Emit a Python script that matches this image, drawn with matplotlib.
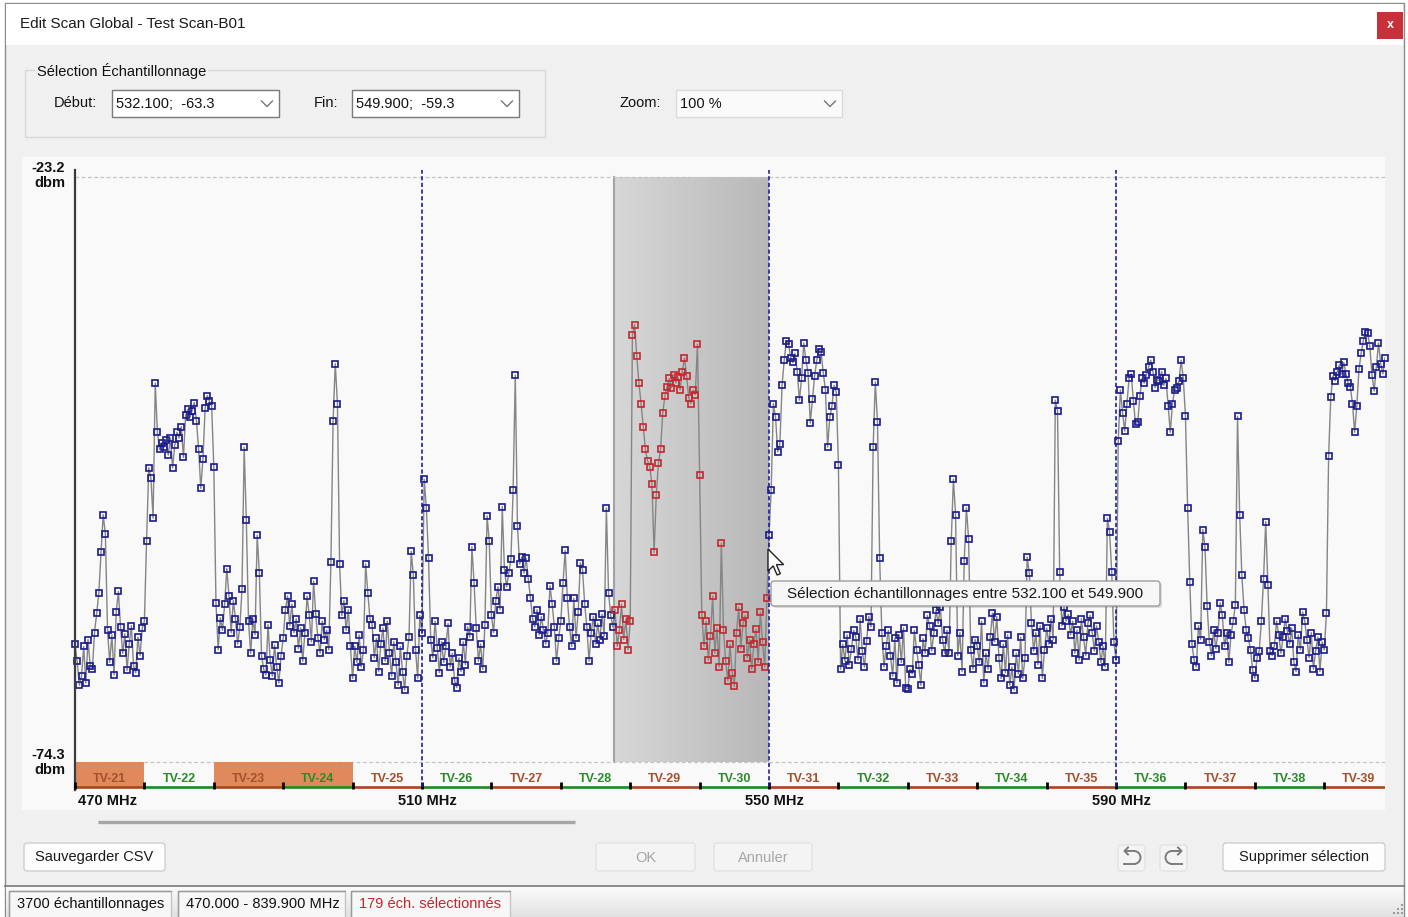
import numpy as np
import matplotlib
matplotlib.use("Agg")
import matplotlib.pyplot as plt
from matplotlib.patches import Rectangle, FancyBboxPatch, Polygon, Arc
from matplotlib.colors import LinearSegmentedColormap

# Scan levels (dBm), one sample every 0.25 MHz, one list per TV channel
step_mhz = 0.25
tv21 = [-64.0, -65.5, -67.6, -66.8, -64.2, -67.4, -63.6, -65.9, -66.2, -63.0, -61.3, -59.5, -56.0, -52.7, -54.4, -62.8,
        -65.6, -63.2, -66.7, -61.2, -59.4, -62.5, -64.8, -63.1, -66.3, -64.0, -62.4, -65.9, -66.5, -63.4, -65.0, -62.6]
tv22 = [-62.0, -55.0, -48.6, -49.5, -53.0, -41.2, -45.5, -47.0, -46.4, -46.8, -46.2, -47.5, -46.0, -48.6, -46.6, -45.5,
        -46.0, -45.0, -47.7, -44.0, -43.5, -44.2, -43.6, -42.9, -44.5, -47.0, -50.4, -47.8, -43.4, -42.3, -42.8, -43.2]
tv23 = [-48.5, -60.4, -64.5, -61.7, -62.8, -60.5, -57.4, -59.8, -63.0, -60.2, -61.8, -64.0, -62.5, -59.2, -46.8, -53.2,
        -62.0, -64.8, -61.8, -63.2, -54.5, -57.8, -65.0, -66.2, -66.7, -62.3, -65.4, -66.8, -64.1, -66.0, -67.4, -65.0]
tv24 = [-63.5, -61.0, -59.8, -62.4, -60.5, -63.0, -61.8, -64.4, -62.6, -65.5, -63.0, -59.8, -61.5, -63.8, -58.5, -61.4,
        -63.5, -64.8, -62.0, -63.6, -62.8, -64.5, -56.8, -44.5, -39.5, -43.0, -57.0, -61.5, -60.2, -62.8, -61.0, -64.2]
tv25 = [-67.0, -64.2, -65.6, -63.2, -66.0, -64.5, -57.0, -59.5, -61.8, -62.3, -65.2, -63.5, -66.4, -64.0, -62.6, -65.5,
        -62.0, -64.8, -66.8, -63.8, -65.6, -67.6, -64.2, -66.4, -68.0, -65.0, -63.4, -55.9, -58.0, -64.5, -67.0, -61.5]
tv26 = [-63.0, -49.6, -52.1, -56.5, -63.6, -65.2, -62.0, -64.3, -66.5, -63.8, -65.6, -64.2, -62.2, -66.0, -64.8, -67.2,
        -67.8, -65.2, -66.4, -63.8, -65.8, -62.5, -63.4, -55.5, -58.7, -62.6, -65.5, -64.0, -66.2, -62.3, -52.8, -55.0]
tv27 = [-61.5, -63.0, -60.2, -59.0, -61.0, -52.0, -57.5, -59.0, -57.8, -56.6, -50.5, -40.5, -53.7, -57.0, -56.4, -57.8,
        -56.5, -58.3, -60.0, -61.8, -62.5, -61.0, -63.2, -61.6, -62.8, -64.0, -63.0, -58.9, -60.5, -62.5, -65.5, -63.5]
tv28 = [-62.0, -58.7, -55.8, -60.0, -62.5, -64.2, -60.0, -63.5, -61.2, -56.9, -57.5, -60.5, -62.5, -65.5, -63.0, -61.6,
        -64.0, -62.2, -63.6, -61.4, -63.3, -52.1, -59.5, -61.5, -62.5, -61.0, -64.2, -62.8, -60.5, -63.6, -61.8, -64.5]
tv29 = [-62.0, -37.0, -36.1, -38.8, -41.2, -43.0, -45.0, -47.0, -48.0, -48.5, -50.0, -56.0, -51.0, -48.2, -47.0, -43.8,
        -42.3, -41.5, -40.8, -41.6, -40.5, -41.2, -40.7, -41.8, -40.2, -39.0, -40.6, -42.5, -43.0, -41.8, -42.2, -37.8]
tv30 = [-49.2, -61.5, -64.2, -62.0, -65.4, -63.3, -59.8, -64.8, -62.6, -66.0, -55.2, -62.8, -65.5, -67.2, -64.0, -66.5,
        -67.7, -63.0, -60.8, -64.4, -62.2, -61.5, -65.2, -63.6, -66.2, -64.0, -62.7, -65.6, -61.2, -63.8, -66.0, -60.0]
tv31 = [-54.5, -50.5, -43.0, -44.2, -47.2, -46.5, -41.4, -39.2, -37.5, -37.8, -39.0, -39.4, -38.6, -40.2, -42.7, -40.8,
        -37.7, -39.2, -40.3, -44.7, -42.6, -40.6, -39.2, -38.2, -38.5, -40.3, -41.8, -46.8, -44.2, -43.2, -41.4, -42.0]
tv32 = [-48.4, -66.2, -64.0, -65.5, -63.2, -65.8, -64.4, -62.8, -63.4, -65.4, -61.8, -64.6, -66.0, -63.7, -61.6, -62.5,
        -46.8, -41.1, -44.6, -56.5, -63.0, -66.0, -64.2, -62.8, -65.0, -66.8, -63.5, -67.4, -63.2, -65.6, -62.6, -67.8]
tv33 = [-67.9, -66.2, -66.6, -62.8, -64.5, -65.8, -67.6, -63.5, -64.8, -61.5, -62.4, -64.6, -63.0, -61.0, -62.2, -60.8,
        -63.6, -64.8, -62.8, -64.8, -55.0, -49.6, -52.7, -65.0, -63.0, -66.4, -56.7, -52.1, -54.8, -64.5, -66.2, -63.6]
tv34 = [-64.2, -65.6, -62.0, -67.4, -64.8, -66.2, -63.4, -61.3, -63.8, -61.6, -65.2, -67.0, -64.0, -66.5, -63.2, -67.6,
        -66.0, -68.0, -64.8, -66.6, -63.4, -67.0, -65.2, -56.4, -57.8, -62.2, -64.6, -63.0, -65.8, -62.4, -67.0, -64.5]
tv35 = [-62.6, -64.0, -61.8, -63.6, -42.7, -43.6, -57.7, -62.4, -60.8, -62.0, -61.4, -63.2, -62.0, -64.8, -62.8, -65.4,
        -61.8, -63.4, -65.0, -62.2, -61.5, -63.0, -64.6, -62.4, -63.8, -65.6, -64.2, -66.0, -53.0, -54.2, -57.7, -63.8]
tv36 = [-65.4, -46.3, -41.8, -43.8, -45.4, -43.0, -40.8, -40.4, -42.8, -44.8, -44.6, -42.3, -40.8, -41.2, -40.5, -39.8,
        -39.2, -40.2, -41.6, -40.9, -41.0, -40.2, -41.4, -40.8, -43.2, -45.5, -43.0, -41.8, -41.6, -41.0, -39.2, -40.8]
tv37 = [-44.1, -52.1, -58.6, -64.0, -65.4, -66.0, -62.4, -63.6, -54.0, -55.5, -60.7, -63.8, -65.0, -62.8, -64.4, -63.0,
        -60.4, -61.5, -64.2, -63.0, -65.6, -63.2, -62.0, -60.6, -44.1, -52.7, -58.0, -61.0, -62.8, -63.5, -64.5, -66.3]
tv38 = [-67.0, -65.2, -64.6, -62.0, -58.3, -53.3, -58.8, -64.6, -65.0, -64.2, -62.0, -63.2, -64.8, -63.4, -61.8, -62.9,
        -64.0, -62.6, -65.6, -66.4, -63.2, -64.5, -61.2, -62.0, -63.6, -65.2, -63.0, -66.2, -64.6, -63.4, -66.4, -63.8]
tv39 = [-64.5, -61.3, -47.6, -42.4, -40.6, -41.0, -40.2, -39.6, -40.4, -39.4, -40.4, -41.2, -41.5, -43.0, -45.5, -43.2,
        -40.0, -38.6, -37.5, -36.7, -36.8, -38.0, -40.5, -41.9, -39.8, -37.7, -39.5, -40.4, -39.0]

channel_numbers = list(range(21, 40))
channel_levels = [tv21, tv22, tv23, tv24, tv25, tv26, tv27, tv28, tv29, tv30,
                  tv31, tv32, tv33, tv34, tv35, tv36, tv37, tv38, tv39]
occupied_channels = [21, 23, 24]
sel_start, sel_end = 532.1, 549.9
y_top, y_bot = -23.2, -74.3
x_view = (470.0, 621.0)
freq_ticks = [470, 510, 550, 590]
debut_text = "532.100;  -63.3"
fin_text = "549.900;  -59.3"
zoom_text = "100 %"
status_items = ["3700 échantillonnages", "470.000 - 839.900 MHz", "179 éch. sélectionnés"]

# flatten the channel lists into one sweep
freqs, levels = [], []
for n, vals in zip(channel_numbers, channel_levels):
    f0 = 470 + 8 * (n - 21)
    freqs.extend(f0 + step_mhz * np.arange(len(vals)))
    levels.extend(vals)
freqs = np.array(freqs)
levels = np.array(levels)
in_sel = (freqs >= sel_start) & (freqs <= sel_end)

plt.rcParams['font.family'] = ['Liberation Sans', 'DejaVu Sans']

W, H = 1408, 917
fig = plt.figure(figsize=(W / 100, H / 100), dpi=100)
fig.patch.set_facecolor('white')
bg = fig.add_axes([0, 0, 1, 1])
bg.axis('off')

UI = 10.5  # ui font size


def button(x0, y0, x1, y1, label, enabled=True):
    fc, ec, tc = ('#fdfdfd', '#cfcfcf', '#1a1a1a') if enabled else ('#f4f4f4', '#e2e2e2', '#a6a6a6')
    bg.add_patch(FancyBboxPatch((x0, y0), x1 - x0, y1 - y0, boxstyle="round,pad=0,rounding_size=3",
                                fc=fc, ec=ec, lw=1))
    if label:
        bg.text((x0 + x1) / 2, (y0 + y1) / 2 + 0.5, label, ha='center', va='center', fontsize=UI, color=tc)


def combo(x0, y0, x1, y1, label, flat=False):
    bg.add_patch(Rectangle((x0, y0), x1 - x0, y1 - y0, fc='#fafafa' if flat else 'white',
                           ec='#dadada' if flat else '#7a7a7a', lw=1))
    bg.text(x0 + 4, (y0 + y1) / 2 + 0.5, label, ha='left', va='center', fontsize=UI, color='#111111')
    cx, cy = x1 - 12, (y0 + y1) / 2
    bg.plot([cx - 5.5, cx, cx + 5.5], [cy - 2.5, cy + 3, cy - 2.5], color='#6a6a6a', lw=0.9)


# window frame, title bar
bg.add_patch(Rectangle((5, 3), 1399, 914, fc='#f0f0f0', ec='#8c8c8c', lw=1))
bg.add_patch(Rectangle((6, 4), 1397, 41, fc='white', ec='none'))
bg.text(20, 24, "Edit Scan Global - Test Scan-B01", ha='left', va='center', fontsize=11, color='#1a1a1a')
bg.add_patch(Rectangle((1377, 12), 26, 27, fc='#c8303a', ec='none'))
bg.text(1390, 25.5, "x", ha='center', va='center', fontsize=9, color='white', fontweight='bold')

# selection group box
bg.add_patch(Rectangle((25, 70), 520, 67, fc='none', ec='#d8d8d8', lw=1))
bg.text(37, 71, "Sélection Échantillonnage", ha='left', va='center', fontsize=UI, color='#111111',
        bbox=dict(fc='#f0f0f0', ec='none', pad=1.5))
bg.text(54, 103, "Début:", ha='left', va='center', fontsize=UI, color='#111111')
combo(112, 90, 279, 117, debut_text)
bg.text(314, 103, "Fin:", ha='left', va='center', fontsize=UI, color='#111111')
combo(352, 90, 519, 117, fin_text)
bg.text(620, 103, "Zoom:", ha='left', va='center', fontsize=UI, color='#111111')
combo(676, 90, 842, 117, zoom_text, flat=True)

# chart panel
bg.add_patch(Rectangle((22, 157), 1363, 653, fc='#f9f9f9', ec='none'))
bg.text(65, 168, "-23.2", ha='right', va='center', fontsize=10.5, fontweight='bold', color='#111111')
bg.text(65, 183, "dbm", ha='right', va='center', fontsize=10.5, fontweight='bold', color='#111111')
bg.text(65, 755, "-74.3", ha='right', va='center', fontsize=10.5, fontweight='bold', color='#111111')
bg.text(65, 770, "dbm", ha='right', va='center', fontsize=10.5, fontweight='bold', color='#111111')

# scroll bar
bg.plot([98, 575], [822, 822], color='#a6a6a6', lw=2.4, solid_capstyle='butt')

# bottom buttons
button(24, 843, 165, 871, "Sauvegarder CSV")
button(596, 843, 695, 871, "OK", enabled=False)
button(714, 843, 812, 871, "Annuler", enabled=False)
button(1118, 845, 1145, 871, "", enabled=False)
button(1160, 845, 1187, 871, "", enabled=False)
button(1223, 843, 1385, 871, "Supprimer sélection")
ic = '#7c7c7c'
# undo icon
bg.plot([1125, 1134], [851, 851], color=ic, lw=1.4)
bg.add_patch(Arc((1134, 857.5), 13, 13, theta1=-90, theta2=90, color=ic, lw=1.4))
bg.plot([1134, 1124], [864, 864], color=ic, lw=1.4)
bg.plot([1128, 1124.5, 1128], [847.5, 851, 854.5], color=ic, lw=1.4)
# redo icon
bg.plot([1181, 1172], [851, 851], color=ic, lw=1.4)
bg.add_patch(Arc((1172, 857.5), 13, 13, theta1=90, theta2=270, color=ic, lw=1.4))
bg.plot([1172, 1182], [864, 864], color=ic, lw=1.4)
bg.plot([1178, 1181.5, 1178], [847.5, 851, 854.5], color=ic, lw=1.4)

# status bar
grad = np.linspace(0, 1, 32)[:, None]
bg.imshow(grad, extent=[6, 1403, 917, 887], cmap=LinearSegmentedColormap.from_list('sb', ['#fbfbfb', '#e2e2e2']),
          aspect='auto', zorder=1)
bg.plot([5, 1404], [886, 886], color='#7a7a7a', lw=1.2)
for (x0, x1), txt in zip([(9, 171), (178, 345), (351, 510)], status_items):
    bg.add_patch(Rectangle((x0, 891), x1 - x0, 28, fc='#f7f7f7', ec='#c4c4c4', lw=1, zorder=2))
    bg.plot([x0, x0, x1], [917, 891, 891], color='#9a9a9a', lw=1, zorder=3)
    col = '#c0282d' if 'sélectionnés' in txt else '#111111'
    bg.text(x0 + 8, 904, txt, ha='left', va='center', fontsize=UI, color=col, zorder=4)
for gx, gy in [(1401, 904), (1397, 908), (1401, 908), (1393, 912), (1397, 912), (1401, 912)]:
    bg.add_patch(Rectangle((gx, gy), 1.6, 1.6, fc='#9a9a9a', ec='none', zorder=4))

bg.set_xlim(0, W)
bg.set_ylim(H, 0)

# ---- data axes: spans the chart panel in pixel rows 157..810, columns 75..1385 ----
ax = fig.add_axes([75 / W, (H - 810) / H, 1310 / W, 653 / H])
ax.axis('off')
db_px = (y_top - y_bot) / 585.0  # dB per screen pixel
band_base = y_bot - 25 * db_px

# selection shading
ax.imshow(np.linspace(0, 1, 64)[None, :], extent=[sel_start, sel_end, y_bot, y_top],
          cmap=LinearSegmentedColormap.from_list('sel', ['#d7d7d7', '#b8b8b8']), aspect='auto', zorder=1)
ax.plot([sel_start, sel_start], [y_bot, y_top], color='#a2a2a2', lw=1.5, zorder=2)

# guide lines
ax.hlines([y_top, y_bot], x_view[0], x_view[1], colors='#c4c4c4', linestyles=(0, (3, 2)), lw=0.9, zorder=2)
ax.vlines(freq_ticks[1:], band_base, y_top + 7 * db_px, colors='#1c1ca8', linestyles=(0, (2.5, 1.5)),
          lw=1.2, zorder=6)
ax.plot([x_view[0], x_view[0]], [y_bot - 28 * db_px, y_top + 7 * db_px], color='#3c3c3c', lw=1.6,
        zorder=6, clip_on=False)

# TV channel band
for n in channel_numbers:
    f0 = 470 + 8 * (n - 21)
    f1 = min(f0 + 8, x_view[1])
    odd = n % 2 == 1
    if n in occupied_channels:
        ax.add_patch(Rectangle((f0, band_base), f1 - f0, y_bot - band_base, fc='#e08a5b', ec='none', zorder=2))
    ax.plot([f0, f1], [band_base, band_base], color='#a8461c' if odd else '#1e8a1e', lw=1.9,
            solid_capstyle='butt', zorder=3)
    ax.text(f0 + 4, y_bot - 17.5 * db_px, f"TV-{n}", ha='center', va='center', fontsize=9,
            fontweight='bold', color='#a5502c' if odd else '#2a8a2a', zorder=3)
    if f0 > x_view[0]:
        ax.plot([f0, f0], [band_base - 2 * db_px, band_base + 5 * db_px], color='black', lw=2,
                solid_capstyle='butt', zorder=4)
ax.plot([x_view[0], x_view[0]], [band_base - 2 * db_px, band_base + 5 * db_px], color='black', lw=2,
        solid_capstyle='butt', zorder=7, clip_on=False)

for i, f in enumerate(freq_ticks):
    ax.text(f + (0.35 if i == 0 else 0.6), y_bot - 39 * db_px, f"{f} MHz", ha='left' if i == 0 else 'center',
            va='center', fontsize=10.5, fontweight='bold', color='#111111')

# sweep
ax.plot(freqs, levels, color='#858585', lw=1.0, zorder=4)
ax.plot(freqs[~in_sel], levels[~in_sel], ls='none', marker='s', ms=5.0, mfc='none', mec='#1a1a8c',
        mew=1.2, zorder=5, clip_on=False)
ax.plot(freqs[in_sel], levels[in_sel], ls='none', marker='s', ms=5.0, mfc='none', mec='#c4282e',
        mew=1.2, zorder=5, clip_on=False)

ax.set_xlim(*x_view)
ax.set_ylim(y_bot - 48 * db_px, y_top + 20 * db_px)

# tooltip and mouse pointer (pixel space, drawn above the chart)
top = fig.add_axes([0, 0, 1, 1])
top.axis('off')
top.patch.set_alpha(0)
top.add_patch(FancyBboxPatch((773, 583), 389, 25, boxstyle="round,pad=0,rounding_size=3",
                             fc='#000000', ec='none', alpha=0.12))
top.add_patch(FancyBboxPatch((771, 581), 389, 25, boxstyle="round,pad=0,rounding_size=3",
                             fc='#f6f6f6', ec='#9c9c9c', lw=1))
top.text(787, 594, f"Sélection échantillonnages entre {sel_start:.3f} et {sel_end:.3f}",
         ha='left', va='center', fontsize=11, color='#1a1a1a')
cur = np.array([(0, 0), (0, 17), (4, 13), (7, 20), (9.5, 19), (6.5, 12), (12, 12)]) * 1.3 + [768, 549]
top.add_patch(Polygon(cur, closed=True, fc='white', ec='#222222', lw=1))
top.set_xlim(0, W)
top.set_ylim(H, 0)

fig.savefig("out.png", dpi=100)
